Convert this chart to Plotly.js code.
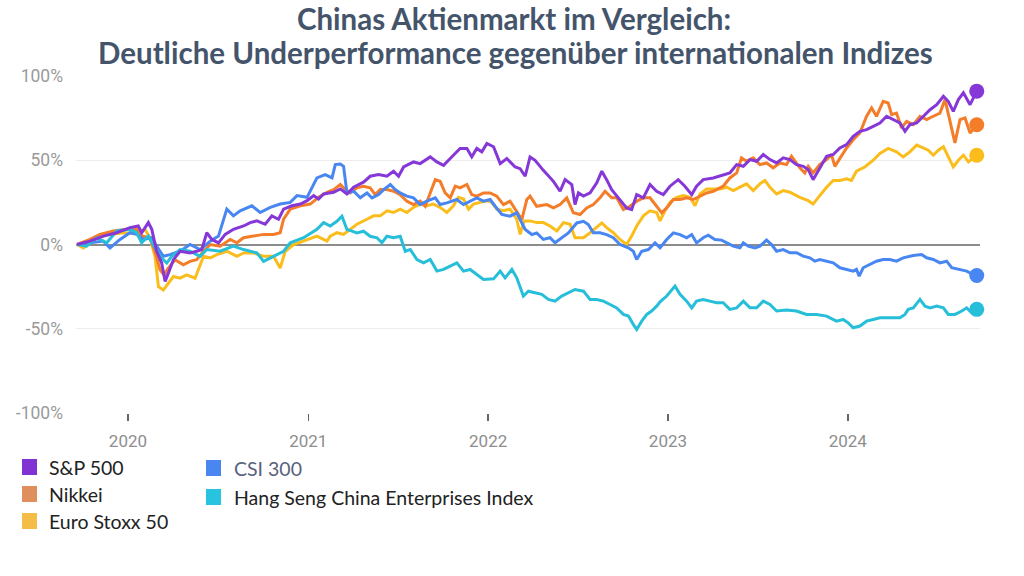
<!DOCTYPE html>
<html>
<head>
<meta charset="utf-8">
<script src="https://cdn.plot.ly/plotly-3.0.1.min.js"></script>
<style>
  html, body { margin: 0; padding: 0; background: #ffffff; }
  #chart { width: 1024px; height: 576px; }
</style>
</head>
<body>
<div id="chart"></div>
<script>
// ---------- DATA (time as decimal year, values in %) ----------
const titleLine1 = 'Chinas Aktienmarkt im Vergleich:';
const titleLine2 = 'Deutliche Underperformance gegenüber internationalen Indizes';

const seriesNames = ['S&P 500', 'Nikkei', 'Euro Stoxx 50', 'CSI 300', 'Hang Seng China Enterprises Index'];
const yearTicks = [2020, 2021, 2022, 2023, 2024];
const yTicks = [-100, -50, 0, 50, 100];
const yTickText = ['-100%', '-50%', '0%', '50%', '100%'];

const spT = [2019.717,2019.789,2019.863,2019.937,2020.011,2020.057,2020.076,2020.113,2020.132,2020.159,
  2020.187,2020.206,2020.224,2020.252,2020.289,2020.344,2020.381,2020.409,2020.437,2020.465,
  2020.502,2020.539,2020.585,2020.641,2020.678,2020.715,2020.761,2020.798,2020.835,2020.863,
  2020.909,2020.956,2020.993,2021.030,2021.057,2021.085,2021.141,2021.178,2021.215,2021.252,
  2021.307,2021.344,2021.391,2021.437,2021.474,2021.502,2021.530,2021.585,2021.622,2021.678,
  2021.715,2021.752,2021.789,2021.844,2021.882,2021.909,2021.937,2021.965,2021.993,2022.030,
  2022.067,2022.104,2022.150,2022.178,2022.206,2022.233,2022.261,2022.307,2022.363,2022.400,
  2022.428,2022.465,2022.483,2022.502,2022.530,2022.567,2022.604,2022.632,2022.659,2022.687,
  2022.724,2022.770,2022.798,2022.826,2022.863,2022.900,2022.937,2022.974,2023.011,2023.057,
  2023.094,2023.132,2023.159,2023.196,2023.252,2023.307,2023.344,2023.382,2023.419,2023.456,
  2023.493,2023.530,2023.567,2023.604,2023.641,2023.678,2023.715,2023.752,2023.780,2023.807,
  2023.844,2023.882,2023.919,2023.956,2023.993,2024.030,2024.067,2024.104,2024.141,2024.178,
  2024.215,2024.252,2024.289,2024.317,2024.344,2024.382,2024.419,2024.456,2024.493,2024.530,
  2024.557,2024.585,2024.613,2024.641,2024.678,2024.715];
const spV = [0,2,5,7,10,11,7,13,9,-4,
  -11,-22,-17,-9,-4,-5,-4,-3,7,3,
  1,6,9,11,13,14,12,17,15,21,
  23,24,26,29,27,30,31,33,30,34,
  37,40.5,41.5,40.5,43.5,40.5,46,49,48,52,
  49,47,51,57,57,52,57,55,60,58,
  48,51,46,45,40.5,52,50,44,37.5,31.6,
  38.5,35.6,23.7,30.6,28.7,30.6,36.6,43.5,38.5,32.6,
  27.7,21.7,20.7,29.6,27.7,35.6,31.6,29.6,34.6,38.5,
  34.6,29.6,34.6,38.5,39.5,41.5,42.5,47.4,46.4,50.4,
  49.4,53.4,50.4,48.4,51.4,50.4,47.4,46.4,44.5,38.5,
  45.5,52.4,53.4,57.3,59.3,64.2,67.2,68.2,70.1,72.1,
  76.1,74.1,72.1,67.2,71.1,72.1,76.1,80,83,88,
  85,79,86,90,83,91];

const nkT = [2019.717,2019.789,2019.844,2019.919,2019.993,2020.048,2020.076,2020.122,2020.150,2020.178,
  2020.200,2020.224,2020.261,2020.307,2020.344,2020.381,2020.419,2020.456,2020.511,2020.567,
  2020.604,2020.641,2020.696,2020.752,2020.807,2020.844,2020.863,2020.900,2020.956,2021.011,
  2021.057,2021.104,2021.141,2021.178,2021.206,2021.233,2021.270,2021.307,2021.344,2021.372,
  2021.400,2021.437,2021.474,2021.511,2021.548,2021.585,2021.622,2021.650,2021.678,2021.706,
  2021.733,2021.761,2021.789,2021.817,2021.844,2021.882,2021.909,2021.937,2021.974,2022.011,
  2022.048,2022.085,2022.122,2022.159,2022.187,2022.215,2022.233,2022.270,2022.326,2022.363,
  2022.400,2022.437,2022.474,2022.511,2022.548,2022.585,2022.622,2022.650,2022.687,2022.715,
  2022.752,2022.789,2022.826,2022.863,2022.900,2022.937,2022.965,2022.993,2023.030,2023.067,
  2023.104,2023.141,2023.178,2023.215,2023.252,2023.307,2023.344,2023.382,2023.409,2023.437,
  2023.474,2023.511,2023.548,2023.585,2023.622,2023.659,2023.687,2023.733,2023.761,2023.780,
  2023.807,2023.844,2023.882,2023.909,2023.928,2023.956,2023.993,2024.030,2024.067,2024.104,
  2024.132,2024.159,2024.196,2024.224,2024.243,2024.270,2024.298,2024.326,2024.363,2024.400,
  2024.437,2024.474,2024.511,2024.539,2024.567,2024.594,2024.622,2024.650,2024.678,2024.715];
const nkV = [0,3,6,8,9,9,5,4,-4,-15,
  -18,-14,-9,-12,-10,-9,-4,0,-1,3,
  1,4,5,6,6,7,15,21,23,24,
  28,31,32.6,35.6,32.6,30.6,33.6,34.6,33.6,29.6,
  32.6,32.6,31.6,29.6,25.7,23.7,25.7,22.7,30.6,38.5,
  37.5,30.6,27.7,34.6,33.6,35.6,29.6,28.7,30.6,30.6,
  28.7,23.7,25.7,19.8,14.8,26.7,28.7,22.7,23.7,21.7,
  23.7,27.7,18.8,17.8,21.7,23.7,27.7,31.6,27.7,27.7,
  20.7,22.7,25.7,27.7,27.7,22.7,18.8,21.7,26.7,26.7,
  27.7,26.7,28.7,30.6,31.6,34.6,39.5,42.5,51.4,49.4,
  51.4,47.4,48.4,45.5,48.4,47.4,52.4,45.5,42.5,46.4,
  42.5,47.4,50.4,53.4,46.4,51.4,57.3,62.2,66.2,76.1,
  81,76.1,85,84,77.1,78,69.2,73.1,71.1,76.1,
  74.1,76.1,78,86,72.1,60.3,74.1,75.1,66.2,71.1];

const esT = [2019.717,2019.752,2019.826,2019.900,2019.974,2020.048,2020.094,2020.122,2020.150,2020.169,
  2020.196,2020.224,2020.252,2020.289,2020.326,2020.372,2020.391,2020.419,2020.456,2020.493,
  2020.548,2020.604,2020.641,2020.696,2020.752,2020.807,2020.844,2020.872,2020.919,2020.974,
  2021.048,2021.104,2021.122,2021.159,2021.196,2021.233,2021.270,2021.326,2021.363,2021.400,
  2021.437,2021.474,2021.511,2021.548,2021.585,2021.622,2021.659,2021.696,2021.733,2021.770,
  2021.807,2021.835,2021.863,2021.891,2021.919,2021.956,2021.993,2022.020,2022.048,2022.085,
  2022.122,2022.159,2022.178,2022.200,2022.233,2022.270,2022.307,2022.344,2022.382,2022.419,
  2022.456,2022.483,2022.530,2022.567,2022.604,2022.632,2022.659,2022.696,2022.733,2022.770,
  2022.798,2022.826,2022.863,2022.900,2022.937,2022.956,2022.983,2023.011,2023.048,2023.085,
  2023.122,2023.150,2023.178,2023.215,2023.252,2023.289,2023.326,2023.363,2023.400,2023.437,
  2023.474,2023.511,2023.539,2023.567,2023.604,2023.641,2023.678,2023.733,2023.780,2023.807,
  2023.844,2023.882,2023.919,2023.956,2023.993,2024.020,2024.048,2024.094,2024.141,2024.178,
  2024.224,2024.270,2024.307,2024.344,2024.382,2024.419,2024.446,2024.474,2024.502,2024.530,
  2024.557,2024.585,2024.613,2024.641,2024.669,2024.715];
const esV = [0,-2,4,6,7,6.5,9,4,-7,-25,
  -27,-23,-19,-20,-18,-20,-15,-7,-8,-6,
  -4,-7,-5,-5,-7,-7,-14,-4,0,2,
  5,2,5,7,6,9,12,15,17,17,
  20,19,21,19,22,24,23,24,22,19,
  23,28,27,21,24,25,26,25,21,20,
  21,15,6,14,14,13,13,11,8,13,
  12,4,4,7,10,12.8,10,7,3,0,
  5,11,17,20,19,14,20,25,28,29,
  28,23,30,33,33,33,34,32,34,36,
  32,36,38,34,30,32,31,28,26,24,
  29,34,38,38,39,38,43.5,46,50,54,
  57,55,52,55,59,57,56,53,56,58,
  52,46,50,53,49,53];

const csT = [2019.717,2019.789,2019.863,2019.900,2019.956,2020.011,2020.048,2020.085,2020.132,2020.159,
  2020.196,2020.233,2020.289,2020.344,2020.400,2020.456,2020.502,2020.548,2020.585,2020.622,
  2020.687,2020.733,2020.789,2020.844,2020.900,2020.937,2020.993,2021.048,2021.094,2021.132,
  2021.150,2021.178,2021.196,2021.215,2021.252,2021.289,2021.326,2021.354,2021.391,2021.419,
  2021.456,2021.483,2021.511,2021.548,2021.585,2021.622,2021.659,2021.706,2021.733,2021.770,
  2021.826,2021.863,2021.900,2021.937,2021.974,2022.011,2022.039,2022.076,2022.122,2022.159,
  2022.178,2022.206,2022.243,2022.270,2022.307,2022.344,2022.372,2022.409,2022.446,2022.493,
  2022.530,2022.557,2022.585,2022.622,2022.659,2022.696,2022.733,2022.780,2022.807,2022.826,
  2022.854,2022.891,2022.928,2022.956,2022.993,2023.030,2023.067,2023.104,2023.132,2023.159,
  2023.196,2023.224,2023.261,2023.298,2023.326,2023.363,2023.400,2023.419,2023.446,2023.483,
  2023.511,2023.548,2023.576,2023.604,2023.641,2023.678,2023.715,2023.752,2023.789,2023.817,
  2023.844,2023.882,2023.919,2023.956,2023.993,2024.030,2024.048,2024.063,2024.085,2024.122,
  2024.159,2024.196,2024.233,2024.270,2024.307,2024.363,2024.409,2024.437,2024.474,2024.511,
  2024.548,2024.576,2024.613,2024.659,2024.696,2024.715];
const csV = [0,1,2,-2,3,7,6,3,4,-1,
  -7,-6,-4,0,-3,2,5,21,17,20,
  23,19,22,24,25,29,28,39.5,41.5,39.5,
  47.4,47.8,46.4,30.6,31.6,27.7,30.6,27.7,29.6,32.6,
  35.6,32.6,30.6,28.7,27.7,23.7,25.7,27.7,23.7,24.7,
  26.7,23.7,25.7,27.7,25.7,26.7,22.7,17.8,16.8,18.8,
  14.8,8.9,5.9,6.9,3,4,1,4,6.9,12.8,
  13.8,11.9,6.9,6.9,5.9,4,0,-2,-4,-8.9,
  -4,-3,1,-2,3,6.9,5.9,4,5.9,1,
  4,5.5,3,2.6,1,-1,-2,1,-1,-2,
  -1,2.6,0,-4,-3,-4.9,-4.9,-6.9,-7.9,-9.9,
  -8.9,-9.9,-10.9,-13.8,-14.8,-15.8,-14.8,-18.8,-13.8,-11.9,
  -9.9,-8.9,-8.9,-9.9,-7.9,-6.5,-5.9,-7.9,-8.9,-10.9,
  -9.9,-13.8,-14.8,-15.8,-17.8,-18.4];

const hsT = [2019.717,2019.770,2019.826,2019.882,2019.937,2020.011,2020.048,2020.076,2020.113,2020.150,
  2020.187,2020.215,2020.243,2020.289,2020.344,2020.400,2020.437,2020.511,2020.585,2020.641,
  2020.715,2020.752,2020.807,2020.863,2020.900,2020.974,2021.048,2021.085,2021.122,2021.159,
  2021.187,2021.215,2021.243,2021.270,2021.307,2021.344,2021.382,2021.409,2021.437,2021.474,
  2021.511,2021.539,2021.567,2021.604,2021.641,2021.678,2021.715,2021.752,2021.789,2021.826,
  2021.863,2021.900,2021.937,2021.974,2022.030,2022.067,2022.094,2022.132,2022.159,2022.196,
  2022.224,2022.261,2022.298,2022.335,2022.372,2022.409,2022.446,2022.483,2022.530,2022.567,
  2022.604,2022.641,2022.678,2022.715,2022.752,2022.780,2022.807,2022.826,2022.854,2022.882,
  2022.909,2022.937,2022.956,2022.993,2023.039,2023.067,2023.104,2023.132,2023.159,2023.196,
  2023.233,2023.270,2023.307,2023.344,2023.382,2023.419,2023.456,2023.493,2023.530,2023.567,
  2023.604,2023.659,2023.715,2023.770,2023.826,2023.882,2023.937,2023.974,2024.002,2024.030,
  2024.067,2024.104,2024.141,2024.178,2024.233,2024.289,2024.317,2024.335,2024.363,2024.400,
  2024.428,2024.456,2024.493,2024.530,2024.557,2024.594,2024.632,2024.659,2024.687,2024.715];
const hsV = [0,-1,4,1,8,9,7,1,5,-2,
  -8,-11,-7,-3,-4,-7,-3,-4,-1,-3,
  -5,-10,-7,-4,1,4,9,13,11,13.8,
  16.8,8.9,7.9,6.9,7.9,4.9,4,1,4.9,4,
  4.9,-4,-3,-8.9,-10.9,-8.9,-15.8,-14.8,-12.8,-10.9,
  -15.8,-14.8,-17.8,-20.7,-20.4,-15.8,-19.8,-14.8,-19.8,-30.6,
  -27.7,-28.7,-29.6,-32.6,-33.6,-30.6,-28.7,-26.7,-27.7,-32.6,
  -32.6,-33.6,-35.6,-37.6,-41.5,-42.5,-47.4,-50.4,-45.5,-41.5,
  -39.5,-36.6,-34,-30.6,-24.7,-29.6,-33.6,-37.6,-33.6,-32.6,
  -33.6,-34.6,-34.6,-38.5,-37.6,-33.6,-37.6,-37.6,-33.6,-35.6,
  -39.5,-38.9,-39.5,-41.5,-41.5,-42.5,-45.5,-44.5,-46.5,-49.4,
  -48.4,-45.5,-44.5,-43.5,-43.5,-43.5,-41.5,-38.5,-37.6,-32.6,
  -36.6,-37.6,-36.6,-37.6,-41.5,-41.5,-39.5,-37.6,-40.5,-38.5];

// ---------- STYLE ----------
const lineColors   = ['#8637d8', '#f47d2a', '#fbbd1c', '#4886f2', '#27bed9'];
const legendColors = ['#8033d2', '#df8f5c', '#f3bd47', '#4a86f0', '#27c3df'];

// decimal year -> date string
function yearToDate(yf) {
  const y = Math.floor(yf);
  const a = Date.UTC(y, 0, 1), b = Date.UTC(y + 1, 0, 1);
  return new Date(a + (yf - y) * (b - a)).toISOString().slice(0, 19).replace('T', ' ');
}

const seriesT = [spT, nkT, esT, csT, hsT];
const seriesV = [spV, nkV, esV, csV, hsV];
const drawOrder = [2, 1, 3, 4, 0];

const traces = [];
drawOrder.forEach(i => {
  traces.push({
    type: 'scatter', mode: 'lines', name: seriesNames[i],
    x: seriesT[i].map(yearToDate), y: seriesV[i],
    line: { color: lineColors[i], width: 3 },
    hoverinfo: 'skip', showlegend: false
  });
});
drawOrder.forEach(i => {
  const n = seriesT[i].length;
  traces.push({
    type: 'scatter', mode: 'markers', name: seriesNames[i] + ' (aktuell)',
    x: [yearToDate(seriesT[i][n - 1])], y: [seriesV[i][n - 1]],
    marker: { color: lineColors[i], size: 15 },
    hoverinfo: 'skip', showlegend: false, cliponaxis: false
  });
});

// plot area in pixels
const M = { l: 76, r: 44, t: 76, b: 163 };
const PW = 1024 - M.l - M.r, PH = 576 - M.t - M.b;
const px = x => (x - M.l) / PW;
const py = y => (576 - M.b - y) / PH;

// legend (custom, two columns with squares)
const legendPos = [
  { sx: 22, tx: 47, y: 467 },
  { sx: 22, tx: 47, y: 494 },
  { sx: 22, tx: 47, y: 521 },
  { sx: 206, tx: 232, y: 468 },
  { sx: 206, tx: 232, y: 497 }
];
const shapes = [];
const annotations = [];
legendPos.forEach((p, i) => {
  shapes.push({
    type: 'rect', xref: 'paper', yref: 'paper',
    x0: px(p.sx), x1: px(p.sx + 15), y0: py(p.y + 8), y1: py(p.y - 8),
    fillcolor: legendColors[i], line: { width: 0 }
  });
  annotations.push({
    xref: 'paper', yref: 'paper', x: px(p.tx), y: py(p.y),
    xanchor: 'left', yanchor: 'middle', showarrow: false,
    text: seriesNames[i],
    font: { family: 'Lato, sans-serif', size: 19.5, color: i === 3 ? '#58627a' : '#222222' }
  });
});
annotations.push({
  xref: 'paper', yref: 'paper', x: px(515), y: py(53),
  xanchor: 'center', yanchor: 'middle', showarrow: false,
  text: titleLine2,
  font: { family: 'Lato, sans-serif', size: 29.5, color: '#44546A', weight: 700 }
});

const layout = {
  width: 1024, height: 576,
  margin: M,
  paper_bgcolor: '#ffffff', plot_bgcolor: '#ffffff',
  title: {
    text: titleLine1,
    x: 514 / 1024, xref: 'container', xanchor: 'center',
    y: 1 - 19.5 / 576, yref: 'container', yanchor: 'middle',
    font: { family: 'Lato, sans-serif', size: 29.5, color: '#44546A', weight: 700 }
  },
  xaxis: {
    type: 'date',
    range: [yearToDate(2019.711), yearToDate(2024.733)],
    tickmode: 'array',
    tickvals: yearTicks.map(y => yearToDate(y)),
    ticktext: yearTicks.map(String),
    showgrid: false, zeroline: false, showline: false,
    ticks: 'outside', ticklen: 7, tickwidth: 1.5, tickcolor: '#666666',
    ticklabelstandoff: 6,
    tickfont: { family: 'Roboto, sans-serif', size: 17, color: '#8e8e8e' }
  },
  yaxis: {
    range: [-100, 100],
    tickmode: 'array',
    tickvals: yTicks, ticktext: yTickText,
    showgrid: true, gridcolor: '#ededed', gridwidth: 1,
    zeroline: true, zerolinecolor: '#8c8c8c', zerolinewidth: 2,
    showline: false, ticks: '',
    ticklabelstandoff: 12,
    tickfont: { family: 'Roboto, sans-serif', size: 17.5, color: '#9a9a9a' }
  },
  shapes: shapes,
  annotations: annotations,
  showlegend: false
};

Plotly.newPlot('chart', traces, layout, { displayModeBar: false, staticPlot: true });
</script>
</body>
</html>
